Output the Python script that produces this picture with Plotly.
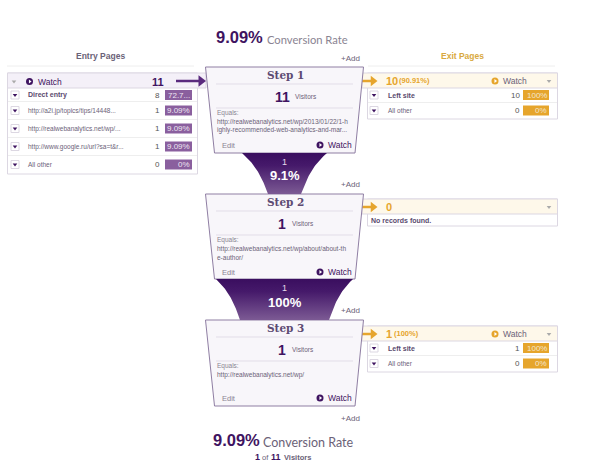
import numpy as np
import plotly.graph_objects as go

# values
top_rate = "9.09%"
bottom_rate = "9.09%"
bottom_note = ["1", "of", "11", "Visitors"]

step_names = ["Step 1", "Step 2", "Step 3"]
step_visitors = [11, 1, 1]
step_urls = [
    ["http://realwebanalytics.net/wp/2013/01/22/1-h", "ighly-recommended-web-analytics-and-mar..."],
    ["http://realwebanalytics.net/wp/about/about-th", "e-author/"],
    ["http://realwebanalytics.net/wp/"],
]
flow_counts = [1, 1]
flow_pcts = ["9.1%", "100%"]

entry_total = 11
entry_labels = ["Direct entry", "http://a2i.jp/topics/tips/14448...", "http://realwebanalytics.net/wp/...",
                "http://www.google.ru/url?sa=t&r...", "All other"]
entry_counts = [8, 1, 1, 1, 0]
entry_pcts = ["72.7...", "9.09%", "9.09%", "9.09%", "0%"]

exit_totals = ["10", "0", "1"]
exit_total_pcts = ["(90.91%)", "", "(100%)"]
exit_labels = [["Left site", "All other"], [], ["Left site", "All other"]]
exit_counts = [[10, 0], [], [1, 0]]
exit_pcts = [["100%", "0%"], [], ["100%", "0%"]]

PURPLE = "#3f1461"
MID = "#6b6278"
GREY = "#8a8492"
BAR = "#8a5f9e"
ORANGE = "#e6a52c"
LINE = "#dcd7e2"
SANS = "Liberation Sans"
NICE = "Lato"

fig = go.Figure()
shapes = []
notes = []


def text(x, y, s, size=8, color=MID, anchor="left", bold=False, font=SANS):
    if bold:
        s = "<b>" + s + "</b>"
    notes.append(dict(x=x, y=y, text=s, xref="x", yref="y", showarrow=False, xanchor=anchor,
                      yanchor="middle", borderpad=0, font=dict(size=size, color=color, family=font)))


def box(x0, y0, x1, y1, fill="white", line=LINE, width=1):
    shapes.append(dict(type="rect", x0=x0, y0=y0, x1=x1, y1=y1, xref="x", yref="y", fillcolor=fill,
                       line=dict(color=line, width=width), layer="below"))


def hline(x0, x1, y, color=LINE, width=1):
    shapes.append(dict(type="line", x0=x0, x1=x1, y0=y, y1=y, xref="x", yref="y",
                       line=dict(color=color, width=width), layer="below"))


def marks(xs, ys, symbol, size, color, line_color=None):
    fig.add_trace(go.Scatter(x=xs, y=ys, mode="markers", hoverinfo="skip", showlegend=False,
                             marker=dict(symbol=symbol, size=size, color=color,
                                         line=dict(color=line_color or color, width=1 if line_color else 0))))


def watch(x, y, color=PURPLE, size=8.5, label_color=PURPLE):
    marks([x], [y], "circle", 7, color)
    marks([x + 0.3], [y], "triangle-right", 3.5, "white")
    text(x + 7, y, "Watch", size, label_color)


def rows(x_btn, x_label, x_count, x_bar0, x_bar1, ys, labels, counts, pcts, fill):
    for i, y in enumerate(ys):
        marks([x_btn], [y], "square", 8, "white", "#dcd7e2")
        marks([x_btn], [y], "triangle-down", 4, PURPLE)
        bold = labels[i] in ("Direct entry", "Left site")
        text(x_label, y, labels[i], 7 if bold else 6.5, "#5a4a6e" if bold else MID, bold=bold)
        text(x_count, y, str(counts[i]), 8, "#555", "right")
        box(x_bar0, y - 5, x_bar1, y + 5, fill, fill, 0)
        text(x_bar1 - 1, y, pcts[i], 8, "#f3e6cf" if fill == ORANGE else "#eee6f2", "right")


# entry panel
text(100, 56, "Entry Pages", 8.5, MID, "center", True)
hline(7, 194, 66, "#eeeeee")
box(7.5, 73, 197.5, 174)
box(7.5, 73, 206, 88, "#f4f0f8")
entry_y = [95, 110.5, 128.5, 146.5, 164.5]
for y in [101.5, 119.5, 137.5, 155.5]:
    hline(8, 197, y, "#eeeeee")
marks([14], [81.5], "triangle-down", 4, "#aaa")
watch(29.5, 81.5)
text(165, 81.5, str(entry_total), 11, PURPLE, "right", True)
rows(15, 27, 161, 165, 192, entry_y, entry_labels, entry_counts, entry_pcts, BAR)
hline(176, 199, 81, "#5a2a7e", 2.5)
marks([201], [81], "triangle-right", 10, "#5a2a7e")

# exit panels
text(462, 56, "Exit Pages", 8.5, "#d9a940", "center", True)
hline(368, 555, 66, "#eeeeee")
exit_tops = [73, 199, 326]
for i, top in enumerate(exit_tops):
    n = len(exit_labels[i])
    bottom = top + 15 + (n * 15.5 if n else 12)
    box(367.5, top, 557.5, bottom)
    box(362, top, 557.5, top + 15, "#fef8ea")
    text(385, top + 8, exit_totals[i], 11, ORANGE, bold=True)
    if exit_total_pcts[i]:
        text(398 if i == 0 else 393, top + 7.5, exit_total_pcts[i], 7.5, ORANGE, bold=True)
        watch(495, top + 8, ORANGE, 8.5, MID)
    marks([549], [top + 8], "triangle-down", 4, "#aaa")
    hline(362, 372, top + 8, ORANGE, 2.5)
    marks([373], [top + 8], "triangle-right", 9, ORANGE)
    if n:
        ys = [top + 22, top + 37.5]
        hline(368, 557, top + 29.5, "#eeeeee")
        rows(374, 387, 521, 523, 549, ys, exit_labels[i], exit_counts[i], exit_pcts[i], ORANGE)
    else:
        text(370, top + 21, "No records found.", 7, "#5a4a6e", bold=True)

# funnel between the steps, sampled from a cubic curve
t = np.linspace(0, 1, 30)


def flow(top, bottom, xl0, xl1):
    mid = 284.5
    h = bottom - top
    d = xl1 - xl0
    left = (1 - t) ** 3 * xl0 + 3 * t * (1 - t) ** 2 * (xl0 + d * 0.6) + 3 * t ** 2 * (1 - t) * (xl0 + d * 0.8) + t ** 3 * xl1
    ys = top + h * (3 * t * (1 - t) ** 2 * 0.33 + 3 * t ** 2 * (1 - t) * 0.66 + t ** 3)
    right = 2 * mid - left
    fig.add_trace(go.Scatter(
        x=np.concatenate([left, right[::-1]]), y=np.concatenate([ys, ys[::-1]]),
        mode="lines", line=dict(width=0), fill="toself", hoverinfo="skip", showlegend=False,
        fillgradient=dict(type="vertical", colorscale=[[0, "#7c5a94"], [0.7, "#45196a"], [1, "#3a0e5f"]]),
    ))


flow(153, 194, 242, 268)
flow(279, 320, 216, 240)
text(284, 162, str(flow_counts[0]), 9, "#e6dcec", "center")
text(284.5, 175, flow_pcts[0], 13, "white", "center", True)
text(284, 288, str(flow_counts[1]), 9, "#e6dcec", "center")
text(285, 302, flow_pcts[1], 13, "white", "center", True)

# steps
step_tops = [67, 194, 320]
step_heights = [86, 85, 86]
for i, top in enumerate(step_tops):
    bottom = top + step_heights[i]
    shapes.append(dict(type="path", xref="x", yref="y", layer="below",
                       path=f"M 205.5 {top} L 363.5 {top} L 355 {bottom} L 214.5 {bottom} Z",
                       fillcolor="#f8f6fa", line=dict(color="#8f7ea3", width=1)))
    text(285, top + 8, step_names[i], 10.5, "#5d4a72", "center", bold=True, font="DejaVu Serif")
    for off in [17, 41]:
        hline(216, 353, top + off, "#e2dde8")
    num = str(step_visitors[i])
    text(291 if len(num) > 1 else 287, top + 30, num, 14, PURPLE, "right", True)
    text(294 if len(num) > 1 else 291, top + 29.5, "Visitors", 6.5, MID)
    text(216, top + 46, "Equals:", 6.5, GREY)
    for j, u in enumerate(step_urls[i]):
        text(216, top + 54.5 + j * 8.5, u, 6.5, MID)
    text(221, top + 78.5, "Edit", 7.5, GREY)
    watch(320, top + 78)

# add links and rates
for y in [58, 184, 310, 418]:
    text(361, y, "+Add", 8, MID, "right")
text(215, 37, top_rate, 16.5, PURPLE, bold=True)
text(266, 39, "Conversion Rate", 11.2, GREY, font=NICE)
text(212, 440, bottom_rate, 16.5, PURPLE, bold=True)
text(262, 442, "Conversion Rate", 12.5, MID, font=NICE)
text(254, 457, bottom_note[0], 9, PURPLE, bold=True)
text(261, 457, bottom_note[1], 7.5, MID)
text(270, 457, bottom_note[2], 9, PURPLE, bold=True)
text(283, 457, bottom_note[3], 7.5, MID, bold=True)

fig.update_layout(
    width=600, height=465, margin=dict(l=0, r=0, t=0, b=0), autosize=False,
    paper_bgcolor="white", plot_bgcolor="white", showlegend=False,
    xaxis=dict(range=[0, 600], visible=False, fixedrange=True),
    yaxis=dict(range=[465, 0], visible=False, fixedrange=True),
    shapes=shapes, annotations=notes,
)
fig.write_html("out.html", config={"displayModeBar": False},
               post_script="document.body.style.margin='0';document.body.style.overflow='hidden';")
